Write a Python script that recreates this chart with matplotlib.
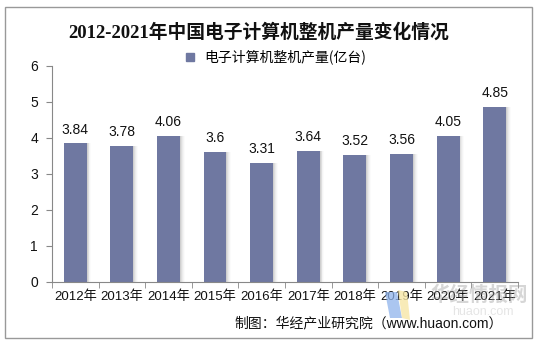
import numpy as np
import matplotlib.pyplot as plt
from matplotlib.patches import Rectangle, Polygon
from matplotlib.lines import Line2D

years = ["2012年", "2013年", "2014年", "2015年", "2016年",
         "2017年", "2018年", "2019年", "2020年", "2021年"]
output = [3.84, 3.78, 4.06, 3.6, 3.31, 3.64, 3.52, 3.56, 4.05, 4.85]
value_labels = ["3.84", "3.78", "4.06", "3.6", "3.31", "3.64", "3.52", "3.56", "4.05", "4.85"]

title = "2012-2021年中国电子计算机整机产量变化情况"
series_name = "电子计算机整机产量(亿台)"
source = "制图：华经产业研究院（www.huaon.com）"

SANS = ["Liberation Sans", "Noto Sans CJK SC"]
CJK = ["Noto Sans CJK SC", "DejaVu Sans"]
BAR = "#6f78a1"
H = 344


def px(points):
    # pixel coords measured from the top-left corner -> display coords
    return [[x, H - y] for x, y in points]


def main():
    plt.rcParams["font.family"] = SANS

    fig = plt.figure(figsize=(5.42, 3.44), dpi=100)
    ax = fig.add_axes([0.0959, 0.181, 0.8598, 0.628])

    x = np.arange(len(years))
    w = 0.49

    # soft shadow on the right side of each bar
    for k, a in enumerate([0.10, 0.08, 0.06, 0.04, 0.02]):
        ax.bar(x + 0.02 * (k + 1), output, w, color="#555555", alpha=a,
               linewidth=0, zorder=1)
    ax.bar(x, output, w, color=BAR, linewidth=0, zorder=2)

    for xi, v, s in zip(x, output, value_labels):
        ax.annotate(s, (xi, v), xytext=(0, 5), textcoords="offset points",
                    ha="center", va="bottom", fontsize=10, color="#111111")

    ax.set_xlim(-0.5, len(years) - 0.5)
    ax.set_ylim(0, 6)
    ax.set_yticks(range(0, 7))
    ax.set_xticks(x)
    ax.set_xticklabels(years, fontsize=9.5)
    ax.set_xticks(np.arange(-0.5, len(years)), minor=True)
    ax.tick_params(axis="x", which="major", length=0, pad=6, colors="#111111")
    ax.tick_params(axis="x", which="minor", length=4, color="#888888")
    ax.tick_params(axis="y", length=4, color="#888888", labelsize=10,
                   labelcolor="#111111", pad=6)

    for s in ["top", "right"]:
        ax.spines[s].set_visible(False)
    for s in ["left", "bottom"]:
        ax.spines[s].set_color("#888888")
        ax.spines[s].set_linewidth(0.8)

    fig.text(0.478, 0.907, title, ha="center", va="center", fontsize=13.5,
             fontweight="bold", family=["Liberation Serif", "Noto Sans CJK SC"],
             color="#111111")

    handle = Line2D([], [], marker="s", linestyle="none", markersize=5.5,
                    markerfacecolor=BAR, markeredgecolor=BAR)
    fig.legend([handle], [series_name], loc="center", bbox_to_anchor=(0.5, 0.834),
               frameon=False, handletextpad=0.0, borderaxespad=0,
               prop={"family": CJK, "size": 10})

    # huaon watermark
    fig.patches.append(Polygon(px([[385, 292], [397, 292], [402, 318], [390, 318]]),
                               closed=True, transform=None, facecolor="#8fb4ec",
                               alpha=0.75, edgecolor="none", zorder=5))
    fig.patches.append(Polygon(px([[398, 290], [407, 292], [410, 320], [402, 318]]),
                               closed=True, transform=None, facecolor="#f7e7a6",
                               alpha=0.8, edgecolor="none", zorder=5))
    fig.text(430 / 542, 1 - 295 / H, "华经情报网", fontsize=14, color="#999999",
             alpha=0.4, family=CJK, fontweight="bold", va="center", ha="left",
             zorder=6)
    fig.text(452 / 542, 1 - 312 / H, "huaon.com", fontsize=9, color="#cccccc",
             alpha=0.5, va="center", ha="left", zorder=6)

    fig.text(503 / 542, 0.061, source, ha="right", va="center", fontsize=10,
             family=SANS, color="#111111")

    fig.patches.append(Rectangle((0.01, 0.018), 0.972, 0.962, transform=fig.transFigure,
                                 fill=False, edgecolor="#999999", linewidth=1))

    fig.savefig("out.png", dpi=100)


if __name__ == "__main__":
    main()
